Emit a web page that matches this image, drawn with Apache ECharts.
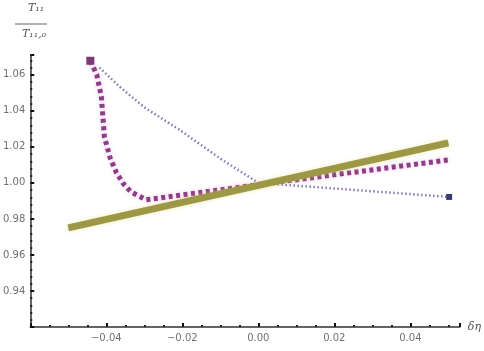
<!DOCTYPE html>
<html>
<head>
<meta charset="utf-8">
<script src="https://cdn.jsdelivr.net/npm/echarts@6/dist/echarts.min.js"></script>
<style>
  html, body { margin: 0; padding: 0; background: #fff; }
  #chart { width: 484px; height: 351px; }
</style>
</head>
<body>
<div id="chart"></div>
<script>
// Ratio against the perturbation δη for three cases
const xTicks = [-0.04, -0.02, 0.00, 0.02, 0.04];
const yTicks = [0.94, 0.96, 0.98, 1.00, 1.02, 1.04, 1.06];

// thick olive line
const linearX = [-0.05, 0.05];
const linearY = [0.975, 1.0222];

// thick purple dashed curve
const purpleX = [-0.0442, -0.0425, -0.0413, -0.0405, -0.0390, -0.0374, -0.0355, -0.0335, -0.0295, 0.0, 0.0502];
const purpleY = [1.0678, 1.0600, 1.0480, 1.0256, 1.0140, 1.0060, 0.9995, 0.9950, 0.9906, 0.9990, 1.0128];

// thin blue dotted curve
const blueX = [-0.0418, -0.0360, -0.0300, -0.0204, -0.0100, 0.0, 0.0502];
const blueY = [1.0640, 1.0525, 1.0420, 1.0290, 1.0135, 1.0000, 0.9922];

const zip = (xs, ys) => xs.map((x, i) => [x, ys[i]]);

const chart = echarts.init(document.getElementById('chart'), null, { renderer: 'canvas' });

const labelStyle = { color: '#707070', fontSize: 10, fontFamily: 'DejaVu Sans' };

chart.setOption({
  animation: false,
  backgroundColor: '#fff',
  grid: { left: 29, right: 23, top: 55, bottom: 24, containLabel: false },
  xAxis: {
    type: 'value',
    min: -0.06, max: 0.053, interval: 0.02,
    name: 'δη',
    nameLocation: 'end',
    nameGap: 8,
    nameTextStyle: { color: '#555', fontSize: 11, fontStyle: 'italic', fontFamily: 'DejaVu Serif', verticalAlign: 'middle' },
    axisLine: { onZero: false, lineStyle: { color: '#333', width: 1.5 } },
    axisTick: { inside: true, length: 4, lineStyle: { color: '#111', width: 2 } },
    minorTick: { show: true, splitNumber: 4, length: 2, lineStyle: { color: '#222', width: 2 } },
    splitLine: { show: false },
    axisLabel: Object.assign({}, labelStyle, {
      margin: 6,
      formatter: v => {
        const hit = xTicks.find(t => Math.abs(t - v) < 1e-9);
        if (hit === undefined) return '';
        return hit < 0 ? '\u2212' + Math.abs(hit).toFixed(2) : hit.toFixed(2);
      }
    })
  },
  yAxis: {
    type: 'value',
    min: 0.92, max: 1.071, interval: 0.02,
    axisLine: { show: true, onZero: false, lineStyle: { color: '#333', width: 1.5 } },
    axisTick: { show: true, inside: true, length: 4, lineStyle: { color: '#111', width: 2 } },
    minorTick: { show: true, splitNumber: 5, length: 2, lineStyle: { color: '#222', width: 2 } },
    splitLine: { show: false },
    axisLabel: Object.assign({}, labelStyle, {
      margin: 5,
      formatter: v => {
        const hit = yTicks.find(t => Math.abs(t - v) < 1e-9);
        return hit === undefined ? '' : hit.toFixed(2);
      }
    })
  },
  graphic: [
    { type: 'text', left: 28, top: 3, style: { text: 'T₁₁', fill: '#555', font: 'italic 11px DejaVu Serif' } },
    { type: 'line', shape: { x1: 15, y1: 24, x2: 47, y2: 24 }, style: { stroke: '#666', lineWidth: 1 } },
    { type: 'text', left: 22, top: 29, style: { text: 'T₁₁,₀', fill: '#555', font: 'italic 11px DejaVu Serif' } }
  ],
  series: [
    {
      type: 'line',
      data: zip(blueX, blueY),
      showSymbol: true,
      symbol: 'rect',
      symbolSize: (val, p) => (p.dataIndex === blueX.length - 1 ? 6 : 0),
      itemStyle: { color: '#3a3a7a' },
      lineStyle: { color: '#7b7bbd', width: 2.5, type: [1.5, 2.5] },
      z: 2
    },
    {
      type: 'line',
      data: zip(purpleX, purpleY),
      showSymbol: true,
      symbol: 'rect',
      symbolSize: (val, p) => (p.dataIndex === 0 ? 8 : 0),
      itemStyle: { color: '#7a3a78' },
      lineStyle: { color: '#8c3f86', width: 5, type: [4, 3.5], shadowColor: 'rgba(230,140,220,0.5)', shadowBlur: 4 },
      z: 3
    },
    {
      type: 'line',
      data: zip(linearX, linearY),
      showSymbol: false,
      lineStyle: { color: '#9d9845', width: 7, cap: 'butt', shadowColor: 'rgba(230,220,120,0.5)', shadowBlur: 4 },
      z: 4
    }
  ]
});
</script>
</body>
</html>
